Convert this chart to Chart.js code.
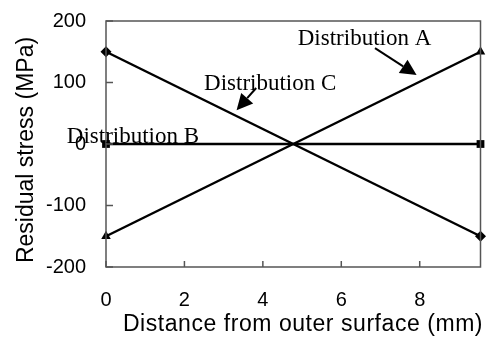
<!DOCTYPE html>
<html>
<head>
<meta charset="utf-8">
<script src="https://cdn.jsdelivr.net/npm/chart.js@4"></script>
<style>
  html, body { margin: 0; padding: 0; background: #fff; }
  #wrap { width: 486px; height: 338px; }
</style>
</head>
<body>
<div id="wrap"><canvas id="myChart" width="486" height="338"></canvas></div>
<script>
// distance from outer surface (mm)
const distance = [0, 9.55];
const distA = [-150, 150];
const distB = [0, 0];
const distC = [150, -150];
const xTicks = [0, 2, 4, 6, 8];
const yTicks = [-200, -100, 0, 100, 200];
const xTitle = 'Distance from outer surface (mm)';
const yTitle = 'Residual stress (MPa)';

// text labels and arrows, in data units
const labels = [
    { text: 'Distribution A', x: 4.89, y: 161 },
    { text: 'Distribution C', x: 2.50, y: 88 },
    { text: 'Distribution B', x: -1.0, y: 1.6 }
];
const arrows = [
    { from: [6.86, 156], to: [7.92, 112] },
    { from: [3.83, 91], to: [3.33, 55] }
];

const sans = '"Liberation Sans", Arial, sans-serif';

const frame = {
    id: 'frame',
    afterDatasetsDraw(chart) {
        const ctx = chart.ctx;
        const a = chart.chartArea;
        const xs = chart.scales.x, ys = chart.scales.y;
        ctx.save();
        ctx.strokeStyle = '#555';
        ctx.lineWidth = 1.5;
        ctx.strokeRect(a.left, a.top, a.right - a.left, a.bottom - a.top);
        // inward ticks
        xTicks.forEach(v => {
            const px = xs.getPixelForValue(v);
            ctx.beginPath();
            ctx.moveTo(px, a.bottom);
            ctx.lineTo(px, a.bottom - 6);
            ctx.stroke();
        });
        yTicks.forEach(v => {
            const py = ys.getPixelForValue(v);
            ctx.beginPath();
            ctx.moveTo(a.left, py);
            ctx.lineTo(a.left + 7, py);
            ctx.stroke();
        });
        // arrows
        ctx.strokeStyle = '#000';
        ctx.fillStyle = '#000';
        ctx.lineWidth = 2;
        arrows.forEach(ar => {
            const x1 = xs.getPixelForValue(ar.from[0]), y1 = ys.getPixelForValue(ar.from[1]);
            const x2 = xs.getPixelForValue(ar.to[0]), y2 = ys.getPixelForValue(ar.to[1]);
            const ang = Math.atan2(y2 - y1, x2 - x1);
            const hl = 16, hw = 8;
            const bx = x2 - hl * Math.cos(ang), by = y2 - hl * Math.sin(ang);
            ctx.beginPath();
            ctx.moveTo(x1, y1);
            ctx.lineTo(bx, by);
            ctx.stroke();
            ctx.beginPath();
            ctx.moveTo(x2, y2);
            ctx.lineTo(bx + hw * Math.sin(ang), by - hw * Math.cos(ang));
            ctx.lineTo(bx - hw * Math.sin(ang), by + hw * Math.cos(ang));
            ctx.closePath();
            ctx.fill();
        });
        // labels
        ctx.font = '23px "Liberation Serif", serif';
        ctx.textAlign = 'left';
        ctx.textBaseline = 'alphabetic';
        labels.forEach(l => {
            ctx.fillText(l.text, xs.getPixelForValue(l.x), ys.getPixelForValue(l.y));
        });
        // axis titles
        ctx.font = '23px ' + sans;
        ctx.textAlign = 'center';
        ctx.letterSpacing = '0.55px';
        ctx.fillText(xTitle, 303, 331);
        ctx.letterSpacing = '0px';
        ctx.translate(33, 150);
        ctx.rotate(-Math.PI / 2);
        ctx.fillText(yTitle, 0, 0);
        ctx.restore();
    }
};

const ctx = document.getElementById('myChart').getContext('2d');
new Chart(ctx, {
    type: 'line',
    data: {
        datasets: [
            { label: 'A', data: distance.map((x, i) => ({ x: x, y: distA[i] })), pointStyle: 'triangle', pointRadius: 5.5 },
            { label: 'B', data: distance.map((x, i) => ({ x: x, y: distB[i] })), pointStyle: 'rect', pointRadius: 5.5 },
            { label: 'C', data: distance.map((x, i) => ({ x: x, y: distC[i] })), pointStyle: 'rectRot', pointRadius: 5.5 }
        ].map(d => Object.assign(d, {
            borderColor: '#000', backgroundColor: '#000', borderWidth: 2.5,
            pointBackgroundColor: '#000', pointBorderColor: '#000', pointBorderWidth: 0, clip: false
        }))
    },
    options: {
        responsive: false,
        animation: false,
        layout: { padding: { top: 21, right: 1, left: 0, bottom: 0 } },
        plugins: { legend: { display: false }, tooltip: { enabled: false } },
        scales: {
            x: {
                type: 'linear', min: 0, max: 9.55,
                afterBuildTicks: s => { s.ticks = xTicks.map(v => ({ value: v })); },
                afterFit: s => { s.height = 71; s.paddingLeft = 0; s.paddingRight = 0; },
                grid: { display: false, drawTicks: false },
                border: { display: false },
                ticks: { color: '#000', padding: 21, font: { family: sans, size: 20 } },
                title: { display: false }
            },
            y: {
                min: -200, max: 200,
                afterBuildTicks: s => { s.ticks = yTicks.map(v => ({ value: v })); },
                afterFit: s => { s.width = 106; s.paddingTop = 0; s.paddingBottom = 0; },
                grid: { display: false, drawTicks: false },
                border: { display: false },
                ticks: { color: '#000', padding: 20, font: { family: sans, size: 20 } },
                title: { display: false }
            }
        }
    },
    plugins: [frame]
});
</script>
</body>
</html>
